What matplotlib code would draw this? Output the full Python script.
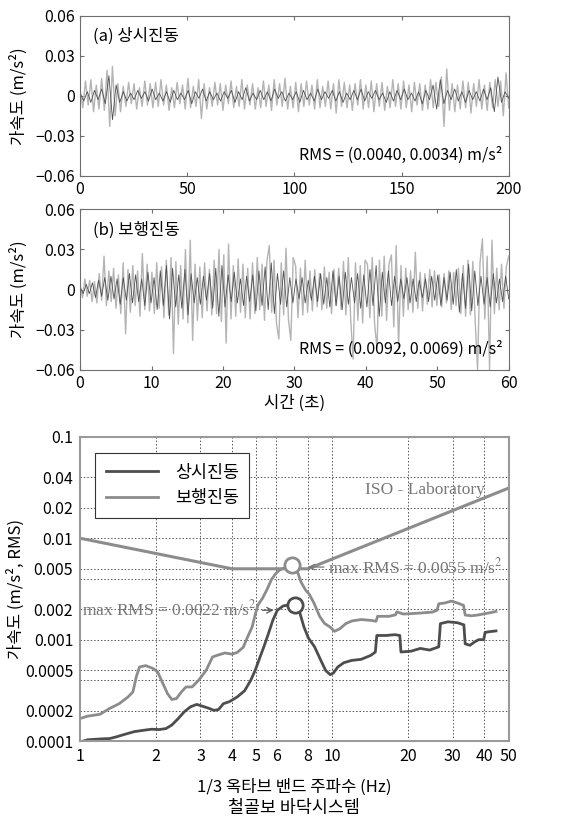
import numpy as np
import matplotlib
matplotlib.use('Agg')
import matplotlib.pyplot as plt
from matplotlib.ticker import FixedLocator, FixedFormatter, NullLocator

plt.rcParams['font.family'] = ['Noto Sans CJK KR', 'DejaVu Sans']
plt.rcParams['mathtext.fontset'] = 'stix'

# ---- time histories (values in mm/s^2) ----
walk_light = [3, -6, 8, -5, 7, -9, 6, -10, 12, -8,
              25, -12, 14, -9, 16, -14, 11, -18, 20, -33,
              15, -17, 18, -12, 14, -20, 27, -15, 19, -16,
              13, -18, 20, -14, 17, -21, 22, -19, 24, -48,
              21, -26, 18, -22, 30, -25, 37, -38, 19, -23,
              17, -21, 20, -16, 15, -19, 22, -18, 30, -24,
              26, -40, 34, -22, 18, -20, 23, -17, 19, -21,
              16, -22, 20, -18, 24, -15, 19, -23, 21, 33,
              -17, 22, -25, -37, 20, -19, 31, -22, -38, 24,
              18, -21, 16, -19, 22, -17, 14, -16, 15, -13,
              12, -15, 17, -14, 13, -18, 15, -12, 16, -15,
              21, -19, 24, -22, -52, 20, -23, 18, -25, 22,
              19, -21, 24, -26, -44, 22, -20, 25, -23, 19,
              26, -28, 33, -43, 18, -20, 16, -15, 14, -17,
              28, -14, 13, -16, 12, -11, 15, -13, 14, -12,
              11, -13, 12, -10, 14, -15, 13, -12, 16, -18,
              18, -20, 22, -19, 21, -24, -60, 20, 38, -22,
              25, -60, 37, -18, 16, -15, 19, -14, 17, 25]
walk_dark = [2, -3, 4, -3, 5, -6, 7, -5, 9, -8,
             10, -7, 8, -11, 9, -8, 12, -10, 11, -9,
             8, -12, 13, -10, 9, -15, 14, -12, 18, -22,
             16, -13, 11, -14, 15, -19, 12, -10, 9, -11,
             10, -8, 12, -14, 16, -20, 18, -13, 11, -9,
             13, -10, 8, -12, 10, -9, 11, -16, 14, -12,
             17, -15, 20, -18, 12, -11, 14, -13, 9, -10,
             8, -7, 9, -10, 7, -8, 10, -9, 12, -11,
             9, -13, 14, -12, 10, -15, 13, -11, 9, -10,
             12, -14, 11, -13, 15, -12, 18, -20, 13, -10,
             14, -12, 10, -9, 8, -7, 9, -10, 8, -9,
             7, -6, 8, -9, 10, -8, 11, -12, 9, -8,
             13, -11, 15, -17, 12, -14, 19, -16, 14, -12,
             10, -11, 9, -13, 12, -10, 8, -9, 10, -7]
amb_light = [4, -9, 11, -7, 12, -12, 8, -10, 13, -11,
             19, -23, 22, -15, 9, -12, 7, -8, 10, -6,
             9, -10, 6, -8, 11, -7, 9, -9, 10, -8,
             12, -7, 8, -11, 6, -9, 10, -6, 8, -10,
             13, -9, 7, -8, 12, -17, 9, -10, 6, -8,
             10, -7, 9, -11, 8, -6, 11, -9, 7, -8,
             12, -10, 8, -7, 9, -10, 6, -9, 11, -8,
             8, -11, 12, -7, 9, -8, 13, -10, 7, -9,
             10, -12, 9, -8, 11, -7, 8, -10, 12, -9,
             7, -8, 11, -10, 9, -13, 12, -8, 10, -9,
             8, -11, 9, -7, 12, -10, 8, -9, 11, -12,
             9, -8, 10, -11, 7, -9, 12, -8, 9, -10,
             11, -9, 8, -12, 10, -7, 9, -11, 8, -10,
             12, -9, 10, -8, 14, -23, 20, -11, 9, -12,
             8, -10, 11, -9, 10, -13, 9, -8, 12, -10,
             8, -11, 10, -9, 12, -8, 11, -15, 17, -9]
amb_dark = [2, -4, 3, -5, 4, -3, 5, -6, 15, -18,
            8, -5, 3, -4, 2, -3, 4, -2, 3, -4,
            5, -3, 2, -4, 3, -5, 4, -3, 2, -3,
            4, -6, 3, -2, 5, -4, 3, -3, 2, -4,
            3, -2, 4, -5, 3, -3, 6, -4, 2, -3,
            4, -3, 3, -4, 5, -2, 3, -4, 2, -3,
            3, -5, 4, -3, 2, -4, 5, -3, 3, -2,
            4, -4, 3, -5, 2, -3, 4, -3, 5, -4,
            3, -2, 4, -3, 2, -5, 3, -4, 4, -3,
            5, -3, 2, -4, 3, -6, 4, -3, 8, -10,
            12, -6, 4, -3, 5, -4, 3, -5, 4, -3,
            3, -4, 5, -3, 6, -12, 14, -5, 3, -2]

# ---- 1/3 octave spectra ----
amb_f = [1.0, 1.07, 1.2, 1.31, 1.39, 1.51, 1.64, 1.79, 1.92, 2.06, 2.19, 2.31, 2.45,
         2.59, 2.74, 2.9, 3.07, 3.25, 3.39, 3.54, 3.7, 3.91, 4.2, 4.49, 4.74, 4.94,
         5.14, 5.35, 5.58, 5.81, 6.05, 6.38, 6.7, 7.05, 7.41, 7.71, 8.03, 8.5, 9.0,
         9.4, 9.8, 10.1, 10.5, 11.1, 11.95, 13.0, 14.2, 14.8, 15.0, 16.3, 17.7, 18.5,
         18.7, 20.5, 22.3, 24.3, 26.4, 26.8, 28.7, 31.3, 33.2, 33.6, 35.1, 36.6,
         38.0, 39.8, 40.3, 42.0, 44.5]
amb_v = [0.000098, 0.000103, 0.000105, 0.000106, 0.00011, 0.000117, 0.000124,
         0.000128, 0.000131, 0.00013, 0.000133, 0.000144, 0.000167, 0.000195,
         0.000218, 0.00023, 0.00022, 0.00021, 0.000201, 0.000205, 0.000234,
         0.000245, 0.000273, 0.000314, 0.000395, 0.000496, 0.00065, 0.00085,
         0.00115, 0.00156, 0.00195, 0.00215, 0.0022, 0.0022, 0.00188, 0.00134,
         0.00104, 0.00085, 0.000625, 0.000498, 0.000452, 0.00047, 0.000537,
         0.000593, 0.000625, 0.00064, 0.0007, 0.000756, 0.0011, 0.0011, 0.00112,
         0.0011, 0.000756, 0.00077, 0.00082, 0.00079, 0.00085, 0.00144, 0.0015,
         0.00147, 0.0014, 0.00091, 0.00088, 0.00095, 0.001, 0.001, 0.00118,
         0.0012, 0.00122]
walk_f = [1.0, 1.07, 1.2, 1.31, 1.43, 1.55, 1.62, 1.67, 1.72, 1.82, 1.95, 2.03,
          2.13, 2.22, 2.31, 2.41, 2.52, 2.63, 2.78, 2.95, 3.16, 3.35, 3.49, 3.75,
          4.0, 4.2, 4.43, 4.61, 4.81, 4.94, 5.07, 5.28, 5.5, 5.73, 5.97, 6.21, 6.47,
          6.9, 7.31, 7.51, 7.82, 8.1, 8.45, 8.9, 9.3, 9.8, 10.2, 10.7, 11.3, 11.95,
          13.0, 14.2, 14.9, 15.1, 16.8, 17.8, 18.0, 19.1, 19.9, 22.3, 24.9, 26.0,
          26.4, 27.9, 29.6, 31.3, 33.1, 33.6, 35.6, 37.7, 40.0, 42.5, 44.5]
walk_v = [0.000167, 0.000176, 0.000184, 0.00021, 0.000234, 0.000273, 0.000306,
          0.00043, 0.000538, 0.000555, 0.000519, 0.00048, 0.000369, 0.000294,
          0.000257, 0.000263, 0.000305, 0.000342, 0.000342, 0.000398, 0.000499,
          0.000676, 0.0007, 0.00074, 0.00072, 0.00075, 0.00084, 0.00106, 0.00134,
          0.00175, 0.0022, 0.00255, 0.0031, 0.0039, 0.0045, 0.0049, 0.0051, 0.0055,
          0.0045, 0.0037, 0.0031, 0.0028, 0.0023, 0.0017, 0.00145, 0.00133,
          0.00121, 0.00128, 0.00144, 0.00153, 0.00158, 0.00155, 0.00152, 0.0017,
          0.0017, 0.00176, 0.00188, 0.00179, 0.0018, 0.00183, 0.00187, 0.00195,
          0.00226, 0.0023, 0.0024, 0.0023, 0.00218, 0.00175, 0.00172, 0.00175,
          0.0018, 0.00185, 0.0019]
iso_f = [1, 4, 8, 50]
iso_v = [0.01, 0.005, 0.005, 0.03125]
peak_f = [6.9, 7.1]
peak_v = [0.0055, 0.0022]

light = '#b4b4b4'
darkts = '#505050'
c_amb = '#4d4d4d'
c_walk = '#8c8c8c'
frame = '#6e6e6e'

fig = plt.figure(figsize=(5.64, 8.18), dpi=100)


def time_panel(rect, t_end, a_light, a_dark, label, rms, xticks, xlabel=None):
    ax = fig.add_axes(rect)
    ax.plot(np.linspace(0, t_end, len(a_light)), np.array(a_light) / 1000.0,
            color=light, lw=1.0)
    ax.plot(np.linspace(0, t_end, len(a_dark)), np.array(a_dark) / 1000.0,
            color=darkts, lw=0.6)
    ax.set_xlim(0, t_end)
    ax.set_ylim(-0.06, 0.06)
    ax.set_yticks([-0.06, -0.03, 0, 0.03, 0.06])
    ax.set_yticklabels(['\u22120.06', '\u22120.03', '0', '0.03', '0.06'])
    ax.set_xticks(xticks)
    ax.tick_params(direction='in', top=True, right=True, labelsize=11.5,
                   length=3, color=frame, pad=4)
    for s in ax.spines.values():
        s.set_color(frame)
    ax.set_ylabel('가속도 (m/s\u00b2)', fontsize=12)
    ax.yaxis.set_label_coords(-0.122, 0.5)
    ax.text(0.03, 0.84, label, transform=ax.transAxes, fontsize=12)
    ax.text(0.985, 0.1, rms, transform=ax.transAxes, fontsize=11.5, ha='right')
    if xlabel:
        ax.set_xlabel(xlabel, fontsize=12, labelpad=2)
    return ax


time_panel([0.142, 0.785, 0.76, 0.196], 200, amb_light, amb_dark,
           '(a) 상시진동', 'RMS = (0.0040, 0.0034) m/s\u00b2', [0, 50, 100, 150, 200])
time_panel([0.142, 0.548, 0.76, 0.196], 60, walk_light, walk_dark,
           '(b) 보행진동', 'RMS = (0.0092, 0.0069) m/s\u00b2',
           [0, 10, 20, 30, 40, 50, 60], xlabel='시간 (초)')

# ---- spectrum panel ----
ax = fig.add_axes([0.142, 0.094, 0.76, 0.372])
ax.set_xscale('log')
ax.set_yscale('log')
ax.plot(iso_f, iso_v, color=c_walk, lw=2.2)
ax.plot(amb_f, amb_v, color=c_amb, lw=2.0, label='상시진동')
ax.plot(walk_f, walk_v, color=c_walk, lw=2.0, label='보행진동')
ax.plot(peak_f[0], peak_v[0], 'o', ms=11, mfc='white', mec=c_walk, mew=2)
ax.plot(peak_f[1], peak_v[1], 'o', ms=11, mfc='white', mec=c_amb, mew=2)
ax.set_xlim(1, 50)
ax.set_ylim(0.0001, 0.1)

xt = [1, 2, 3, 4, 5, 6, 8, 10, 20, 30, 40, 50]
ax.xaxis.set_major_locator(FixedLocator(xt))
ax.xaxis.set_major_formatter(FixedFormatter([str(v) for v in xt]))
ax.xaxis.set_minor_locator(NullLocator())
yt = [0.0001, 0.0002, 0.0004, 0.0005, 0.001, 0.002, 0.004, 0.005,
      0.01, 0.02, 0.04, 0.1]
ylab = ['0.0001', '0.0002', '', '0.0005', '0.001', '0.002', '', '0.005',
        '0.01', '0.02', '0.04', '0.1']
ax.yaxis.set_major_locator(FixedLocator(yt))
ax.yaxis.set_major_formatter(FixedFormatter(ylab))
ax.yaxis.set_minor_locator(NullLocator())
ax.grid(True, which='major', ls=(0, (1.5, 2)), color='#555555', lw=0.7)
ax.tick_params(direction='in', length=0, labelsize=11.5, pad=5)
for s in ax.spines.values():
    s.set_color('#9a9a9a')
    s.set_linewidth(1.5)

ax.set_ylabel('가속도 (m/s\u00b2, RMS)', fontsize=12)
ax.yaxis.set_label_coords(-0.128, 0.5)
ax.set_xlabel('1/3 옥타브 밴드 주파수 (Hz)', fontsize=12, labelpad=10)
fig.text(0.522, 0.006, '철골보 바닥시스템', ha='center', fontsize=12.5)

leg = ax.legend(loc='upper left', bbox_to_anchor=(0.015, 0.975), fontsize=12.5,
                handlelength=3.0, handletextpad=1.0, borderpad=0.6,
                labelspacing=0.45, fancybox=False, framealpha=1)
leg.get_frame().set_edgecolor('#333333')
leg.get_frame().set_linewidth(0.8)

serif = ['Liberation Serif', 'DejaVu Serif']
ax.text(13.5, 0.027, 'ISO - Laboratory', family=serif, fontsize=12.5, color='#777777')
ax.text(9.6, 0.0052, 'max RMS = 0.0055 m/s$^2$', family=serif, fontsize=12.5,
        color='#777777', va='center')
ax.annotate('', xy=(7.8, 0.0052), xytext=(9.5, 0.0052),
            arrowprops=dict(arrowstyle='->', color='#777777', lw=0.9))
ax.text(1.02, 0.002, 'max RMS = 0.0022 m/s$^2$', family=serif, fontsize=12.5,
        color='#777777', va='center')
ax.annotate('', xy=(6.0, 0.00195), xytext=(5.15, 0.00195),
            arrowprops=dict(arrowstyle='->', color='#555555', lw=0.9))

fig.savefig('out.png', dpi=100)
